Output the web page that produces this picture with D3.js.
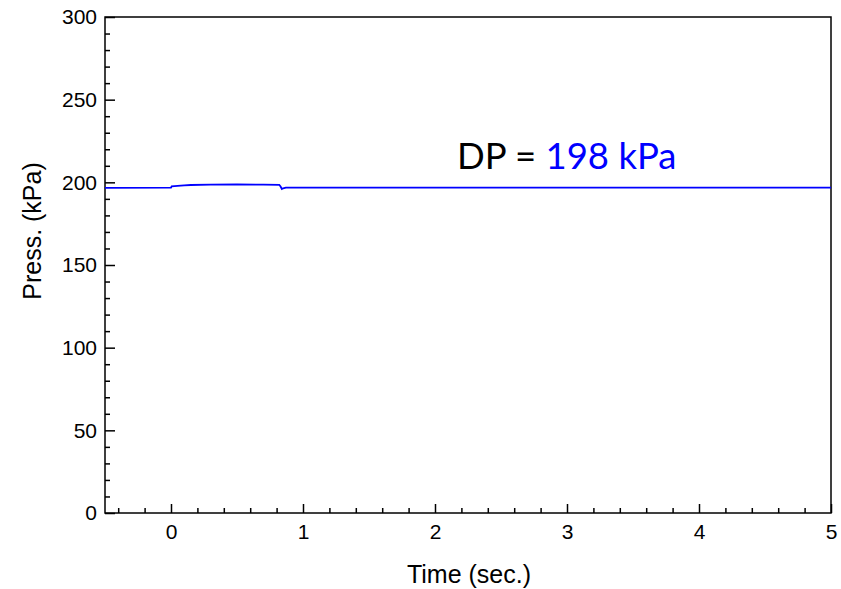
<!DOCTYPE html>
<html>
<head>
<meta charset="utf-8">
<script src="https://cdn.jsdelivr.net/npm/d3@7"></script>
<style>
  body { margin: 0; background: #fff; }
  svg text { font-family: "Liberation Sans", Arial, sans-serif; }
</style>
</head>
<body>
<div id="chart"></div>
<script>
// pressure trace
const timeSec = [-0.5, 0, 0.005, 0.05, 0.1, 0.15, 0.3, 0.5, 0.7, 0.82, 0.83, 0.84, 0.85, 0.87, 1.0, 5];
const pressKPa = [196.7, 196.8, 197.6, 197.9, 198.2, 198.4, 198.6, 198.7, 198.6, 198.5, 197.5, 196.0, 196.4, 196.8, 196.8, 196.8];

const xTicks = [0, 1, 2, 3, 4, 5];
const xMinor = [-0.4, -0.2, 0.2, 0.4, 0.6, 0.8, 1.2, 1.4, 1.6, 1.8, 2.2, 2.4, 2.6, 2.8, 3.2, 3.4, 3.6, 3.8, 4.2, 4.4, 4.6, 4.8];
const yTicks = [0, 50, 100, 150, 200, 250, 300];
const yMinor = d3.range(10, 300, 10).filter(v => v % 50 !== 0);

const dpLabel = "DP = ";
const dpValue = "198 kPa";

const width = 841, height = 589;
const margin = {top: 17, right: 10, bottom: 76, left: 105};

const svg = d3.select("#chart").append("svg")
    .attr("width", width)
    .attr("height", height);

const x = d3.scaleLinear().domain([-0.5, 5]).range([margin.left, 831]);
const y = d3.scaleLinear().domain([0, 300]).range([513, margin.top]);

// frame
svg.append("rect")
    .attr("x", x(-0.5))
    .attr("y", y(300))
    .attr("width", x(5) - x(-0.5))
    .attr("height", y(0) - y(300))
    .attr("fill", "none")
    .attr("stroke", "#000")
    .attr("stroke-width", 1.5);

// x axis, ticks inside
svg.append("g")
    .attr("transform", "translate(0," + y(0) + ")")
    .call(d3.axisBottom(x).tickValues(xMinor).tickSize(-5).tickFormat(""))
    .call(g => g.select(".domain").remove())
    .selectAll("line").attr("stroke-width", 1.5);

svg.append("g")
    .attr("transform", "translate(0," + y(0) + ")")
    .call(d3.axisBottom(x).tickValues(xTicks).tickSize(-9).tickPadding(11).tickFormat(d3.format("d")))
    .call(g => g.select(".domain").remove())
    .call(g => g.selectAll("line").attr("stroke-width", 1.5))
    .selectAll("text")
    .attr("font-size", 21)
    .attr("font-family", "Liberation Sans, Arial, sans-serif")
    .attr("fill", "#000");

// y axis, ticks inside
svg.append("g")
    .attr("transform", "translate(" + x(-0.5) + ",0)")
    .call(d3.axisLeft(y).tickValues(yMinor).tickSize(-5).tickFormat(""))
    .call(g => g.select(".domain").remove())
    .selectAll("line").attr("stroke-width", 1.5);

svg.append("g")
    .attr("transform", "translate(" + x(-0.5) + ",0)")
    .call(d3.axisLeft(y).tickValues(yTicks).tickSize(-10).tickPadding(8))
    .call(g => g.select(".domain").remove())
    .call(g => g.selectAll("line").attr("stroke-width", 1.5))
    .selectAll("text")
    .attr("font-size", 21)
    .attr("font-family", "Liberation Sans, Arial, sans-serif")
    .attr("fill", "#000");

// line
const line = d3.line()
    .x((d, i) => x(timeSec[i]))
    .y(d => y(d));

svg.append("path")
    .datum(pressKPa)
    .attr("fill", "none")
    .attr("stroke", "#0000ff")
    .attr("stroke-width", 1.8)
    .attr("d", line);

// axis titles
svg.append("text")
    .attr("x", 469)
    .attr("y", 583)
    .attr("text-anchor", "middle")
    .attr("font-size", 25)
    .text("Time (sec.)");

svg.append("text")
    .attr("transform", "translate(41,231) rotate(-90)")
    .attr("text-anchor", "middle")
    .attr("font-size", 25)
    .text("Press. (kPa)");

// annotation
const note = svg.append("text")
    .attr("x", 457)
    .attr("y", 169)
    .attr("font-size", 36.5)
    .style("font-family", "Lato, 'Open Sans', sans-serif");
note.append("tspan").attr("fill", "#000").text(dpLabel);
note.append("tspan").attr("fill", "#0000ff").text(dpValue);
</script>
</body>
</html>
